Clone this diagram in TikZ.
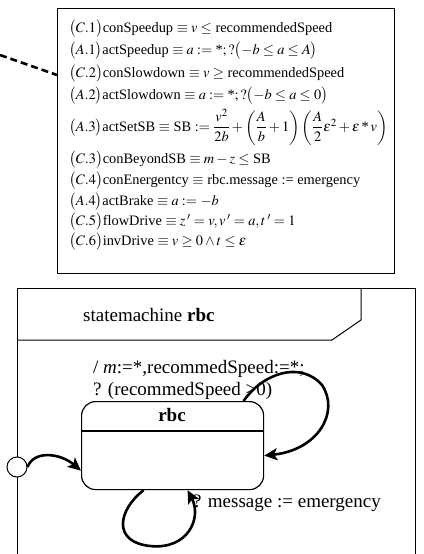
\documentclass[tikz,border=0pt]{standalone}
\usepackage{amsmath}
\usepackage{mathptmx}
\usepackage[no-math]{fontspec}
\setmainfont{Liberation Serif}
\usetikzlibrary{arrows.meta}
\tikzset{
  defline/.style={anchor=west, inner sep=0pt, font=\fontsize{14.4}{16}\selectfont},
  bigtext/.style={inner sep=0pt, font=\fontsize{19}{22}\selectfont},
  trans/.style={line width=2.6pt, -{Stealth[length=13pt,width=12pt,inset=3pt]}},
  dashline/.style={line width=2.6pt, dash pattern=on 7pt off 4pt},
  frameline/.style={line width=1pt},
}
\begin{document}
\begin{tikzpicture}[x=1pt,y=-1pt]
\useasboundingbox (0,0) rectangle (423,554);
% definitions box
\node[draw, line width=1.3pt, minimum width=337, minimum height=265, anchor=north west, inner sep=0pt] (defs) at (57,8) {};
\node[defline] (l1) at (69,29) {$\bigl(C.1\bigr)$conSpeedup $\equiv v \le$ recommendedSpeed};
\node[defline] (l2) at (69,51) {$\bigl(A.1\bigr)$actSpeedup $\equiv a \mathrel{:=} \text{*};?\bigl(-b \le a \le A\bigr)$};
\node[defline] (l3) at (69,74) {$\bigl(C.2\bigr)$conSlowdown $\equiv v \ge$ recommendedSpeed};
\node[defline] (l4) at (69,96) {$\bigl(A.2\bigr)$actSlowdown $\equiv a \mathrel{:=} \text{*};?\bigl(-b \le a \le 0\bigr)$};
\node[defline] (l5) at (69,127) {$\bigl(A.3\bigr)$actSetSB $\equiv$ SB $\mathrel{:=} \dfrac{v^2}{2b} + \left(\dfrac{A}{b}+1\right)\left(\dfrac{A}{2}\varepsilon^{2} + \varepsilon \mathbin{\text{*}} v\right)$};
\node[defline] (l6) at (69,160) {$\bigl(C.3\bigr)$conBeyondSB $\equiv m - z \le$ SB};
\node[defline] (l7) at (69,181) {$\bigl(C.4\bigr)$conEnergentcy $\equiv$ rbc.message := emergency};
\node[defline] (l8) at (69,202) {$\bigl(A.4\bigr)$actBrake $\equiv a \mathrel{:=} -b$};
\node[defline] (l9) at (69,222) {$\bigl(C.5\bigr)$flowDrive $\equiv z\,'=v,v\,'=a,t\,'=1$};
\node[defline] (l10) at (69,242) {$\bigl(C.6\bigr)$invDrive $\equiv v \ge 0 \land t \le \varepsilon$};
\coordinate (dstart) at (0,55);
\coordinate (dend) at (57,75);
\draw[dashline] (dstart) -- (dend);
% state machine frame
\draw[frameline] (17,560) -- (17,288) -- (415,288) -- (415,560);
\draw[frameline] (17,340) -- (332,340) -- (361,320) -- (361,288);
\node[bigtext, anchor=west] (title) at (83,315) {statemachine \textbf{rbc}};
\node[bigtext, anchor=west] (g1) at (93,369) {/ \textit{m}:=*,recommedSpeed:=*;};
\node[bigtext, anchor=west] (g2) at (93,391) {? (recommedSpeed >0)};
% state
\node[draw, line width=1.2pt, rounded corners=14pt, minimum width=182, minimum height=88, anchor=north west, inner sep=0pt] (rbc) at (81,401) {};
\node[bigtext, font=\fontsize{19}{22}\selectfont\bfseries] (rbcname) at (172,415) {rbc};
\draw[line width=1.2pt] ([yshift=-30pt]rbc.north west) -- ([yshift=-30pt]rbc.north east);
% initial
\node[circle, draw, line width=1pt, fill=white, minimum size=20pt, inner sep=0pt] (init) at (17,467) {};
\node[bigtext, anchor=west] (msg) at (193,503) {? message := emergency};
% transitions
\draw[trans] (init.east) .. controls (34,450) and (60,453) .. ([yshift=-25pt]rbc.west);
\draw[trans] ([xshift=71pt]rbc.north) .. controls (262,374) and (300,360) .. (322,385) .. controls (340,412) and (318,450) .. ([yshift=-10pt]rbc.east);
\draw[trans] ([xshift=-29pt]rbc.south) .. controls (118,510) and (112,542) .. (150,546) .. controls (188,550) and (202,518) .. ([xshift=15pt]rbc.south);
\end{tikzpicture}
\end{document}
